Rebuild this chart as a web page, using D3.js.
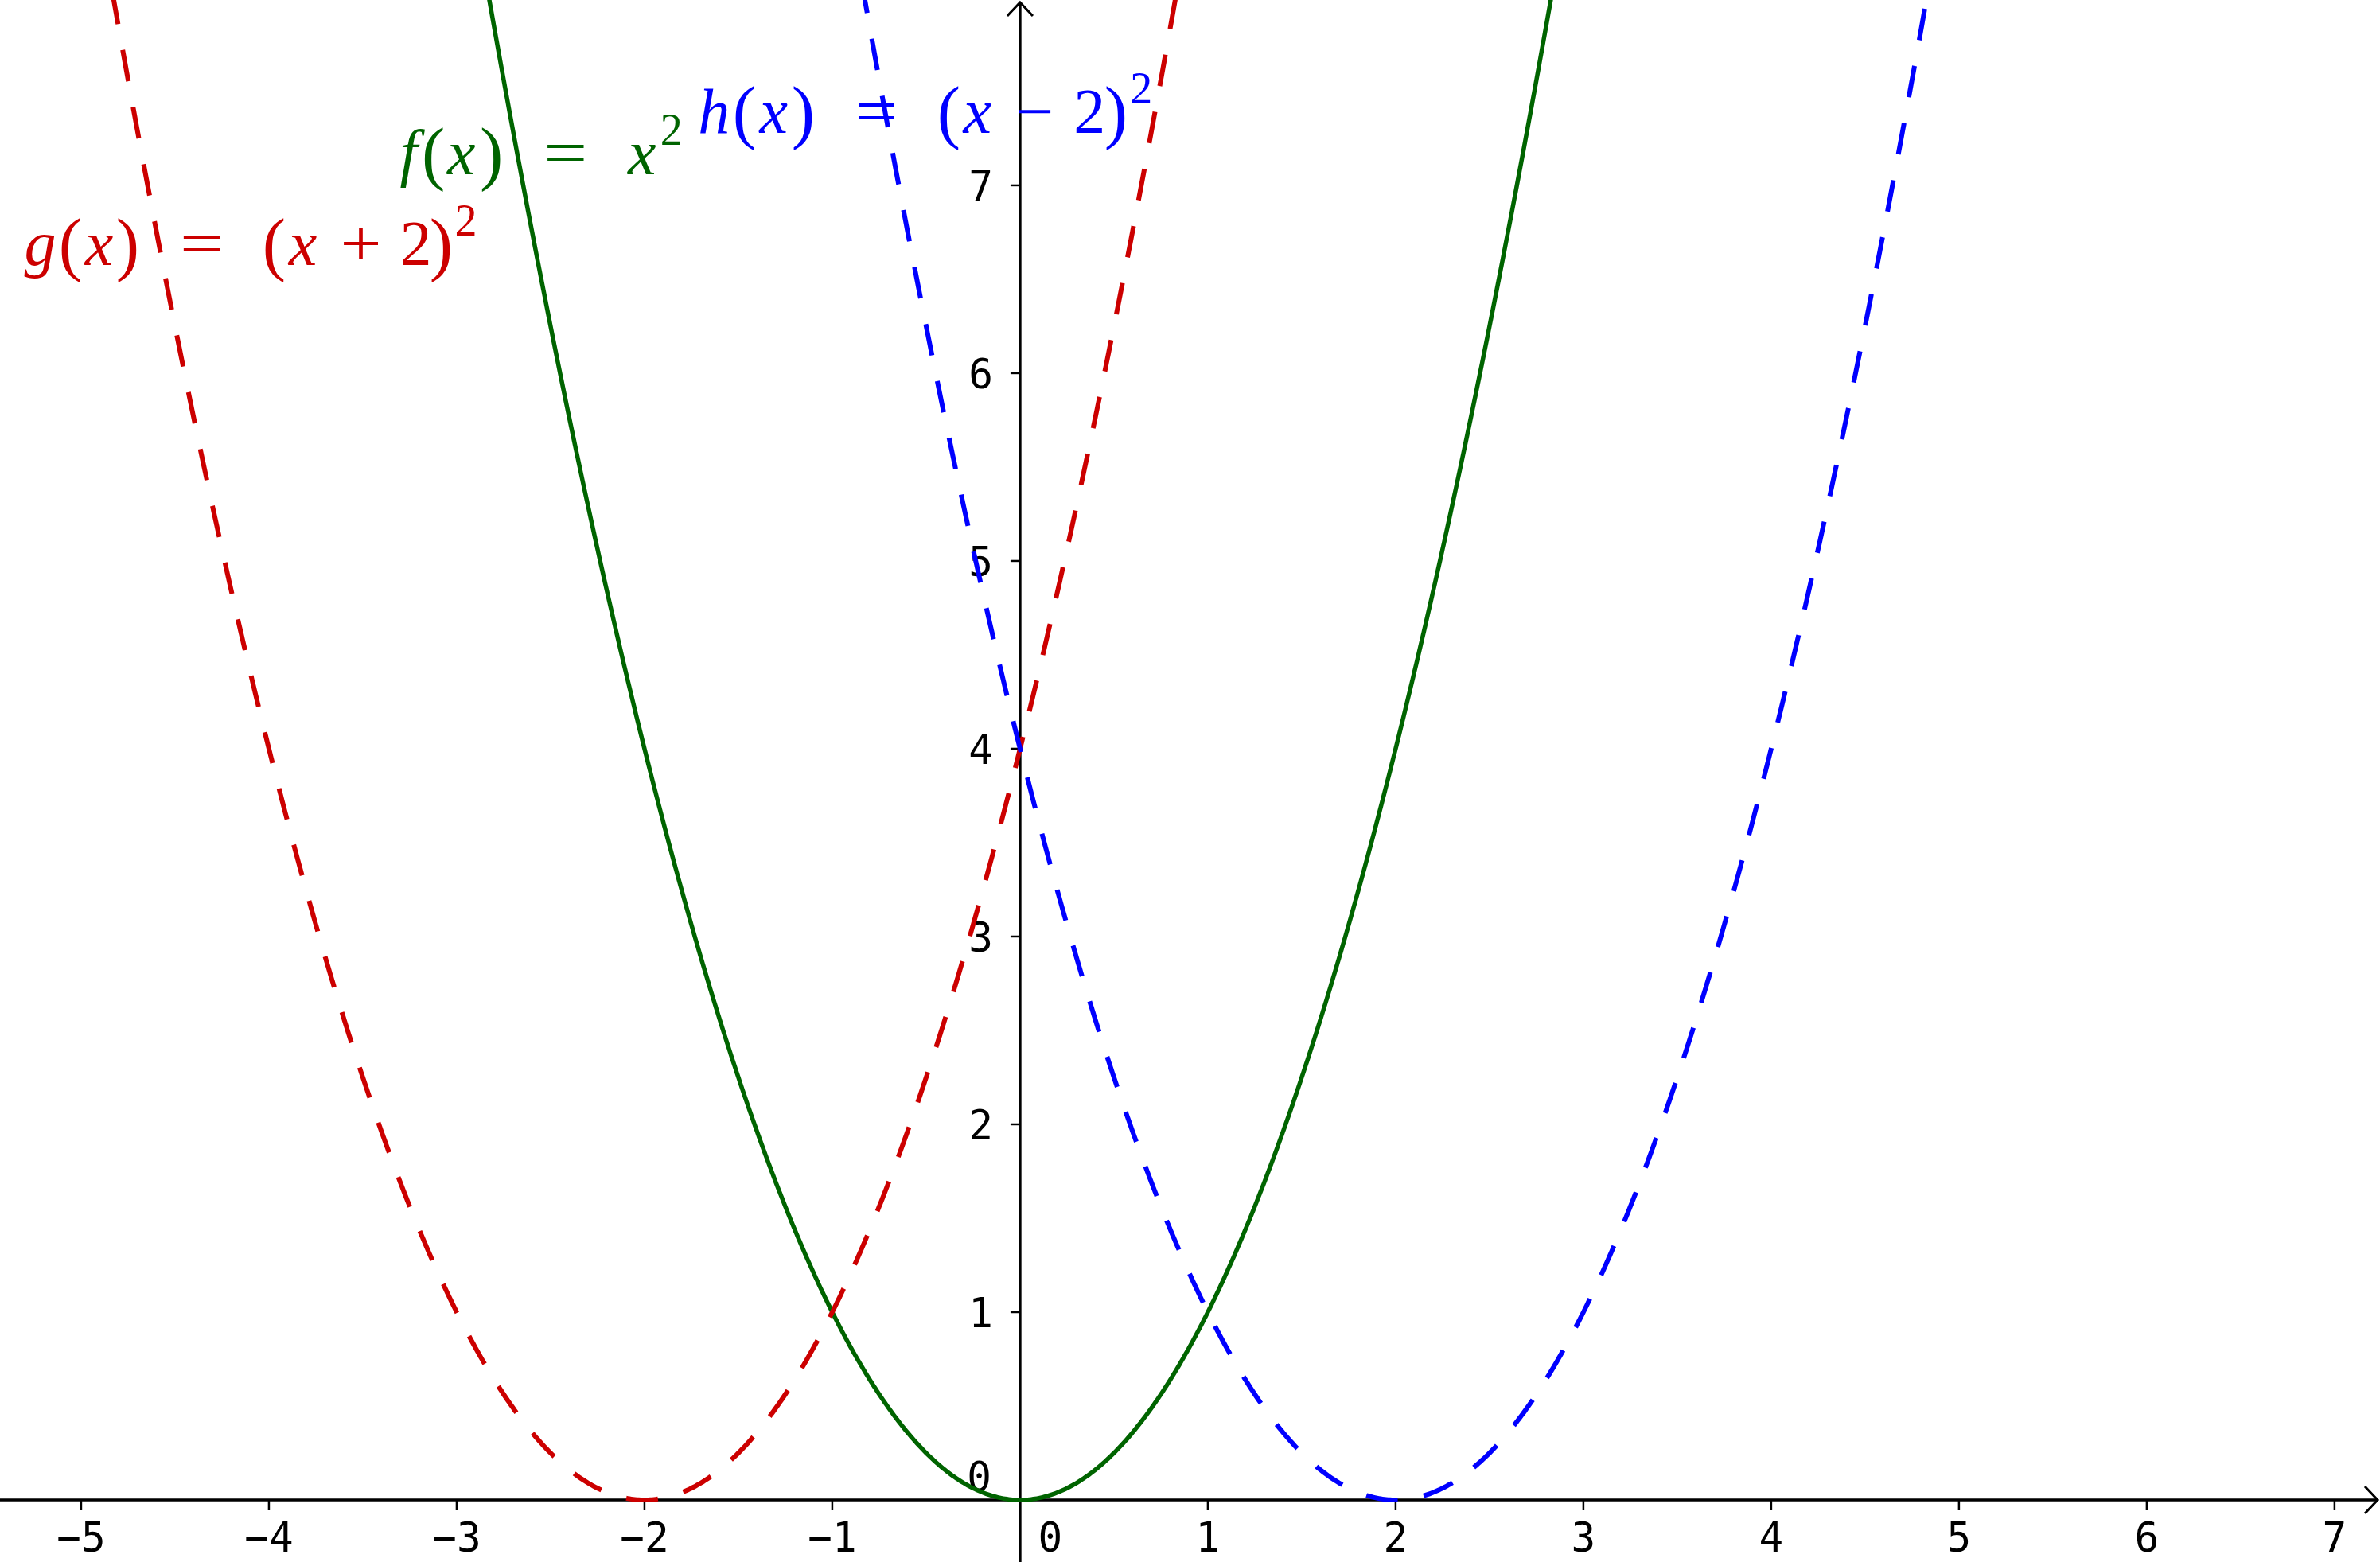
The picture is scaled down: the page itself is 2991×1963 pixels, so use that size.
<!DOCTYPE html>
<html>
<head>
<meta charset="utf-8">
<script src="https://cdn.jsdelivr.net/npm/d3@7"></script>
<style>
  html, body { margin: 0; padding: 0; background: #fff; }
  svg { display: block; }
</style>
</head>
<body>
<div id="chart"></div>
<script>
// Data
const xTicks = [-5, -4, -3, -2, -1, 1, 2, 3, 4, 5, 6, 7];
const yTicks = [1, 2, 3, 4, 5, 6, 7];
const sampleStart = -5.6;
const sampleEnd = 7.4;
const sampleStep = 0.01;

// the three parabolas: f(x) = x^2, g(x) = (x+2)^2, h(x) = (x-2)^2
const curveNames = ["f", "g", "h"];
const curveShifts = [0, 2, -2];
const curveColors = ["#006400", "#cc0000", "#0000ff"];
const curveDashed = [false, true, true];

// Dimensions
const width = 2991;
const height = 1963;

const x = d3.scaleLinear().domain([-5.432, 7.242]).range([0, width]);
const y = d3.scaleLinear().domain([-0.3305, 7.987]).range([height, 0]);

const svg = d3.select("#chart")
    .append("svg")
    .attr("width", width)
    .attr("height", height);

svg.append("defs").append("clipPath")
    .attr("id", "plot")
    .append("rect")
    .attr("width", width)
    .attr("height", height);

const x0 = x(0);
const y0 = y(0);

// Axes
const axes = svg.append("g")
    .attr("stroke", "#000")
    .attr("fill", "none");

axes.append("line")
    .attr("x1", 0).attr("x2", width - 3)
    .attr("y1", y0).attr("y2", y0)
    .attr("stroke-width", 3.5);

axes.append("path")
    .attr("d", `M${width - 19},${y0 - 17}L${width - 3},${y0}L${width - 19},${y0 + 17}`)
    .attr("stroke-width", 3);

axes.append("line")
    .attr("x1", x0).attr("x2", x0)
    .attr("y1", height).attr("y2", 3)
    .attr("stroke-width", 3.5);

axes.append("path")
    .attr("d", `M${x0 - 16},${20}L${x0},${3}L${x0 + 16},${20}`)
    .attr("stroke-width", 3);

// tick marks
axes.selectAll(".xt")
    .data(xTicks)
    .enter().append("line")
    .attr("x1", d => x(d)).attr("x2", d => x(d))
    .attr("y1", y0).attr("y2", y0 + 13)
    .attr("stroke-width", 2.5);

axes.selectAll(".yt")
    .data(yTicks)
    .enter().append("line")
    .attr("x1", x0 - 12).attr("x2", x0)
    .attr("y1", d => y(d)).attr("y2", d => y(d))
    .attr("stroke-width", 2.5);

// tick labels
const fmt = d => d < 0 ? "\u2212" + Math.abs(d) : String(d);

const labels = svg.append("g")
    .attr("font-family", "'DejaVu Sans Mono', monospace")
    .attr("font-size", 51)
    .attr("fill", "#000");

labels.selectAll(".xl")
    .data(xTicks)
    .enter().append("text")
    .attr("x", d => x(d))
    .attr("y", y0 + 65)
    .attr("text-anchor", "middle")
    .text(fmt);

labels.selectAll(".yl")
    .data(yTicks)
    .enter().append("text")
    .attr("x", x0 - 34)
    .attr("y", d => y(d) + 19)
    .attr("text-anchor", "end")
    .text(fmt);

// origin labels
labels.append("text")
    .attr("x", x0 + 38).attr("y", y0 + 65)
    .attr("text-anchor", "middle")
    .text("0");
labels.append("text")
    .attr("x", x0 - 36).attr("y", y0 - 11)
    .attr("text-anchor", "end")
    .text("0");

// Curves
const line = d3.line()
    .x(d => x(d[0]))
    .y(d => y(d[1]));

const xs = d3.range(sampleStart, sampleEnd, sampleStep);

const curves = svg.append("g").attr("clip-path", "url(#plot)");

curveNames.forEach((name, i) => {
    const pts = xs.map(v => [v, (v + curveShifts[i]) * (v + curveShifts[i])])
        .filter(p => p[1] < 9);
    curves.append("path")
        .datum(pts)
        .attr("d", line)
        .attr("fill", "none")
        .attr("stroke", curveColors[i])
        .attr("stroke-width", curveDashed[i] ? 6 : 5.5)
        .attr("stroke-dasharray", curveDashed[i] ? "40,33" : null)
        .attr("stroke-linecap", "butt")
        .attr("stroke-linejoin", "round");
});

// Function labels (math style). Each token: text, italic?, superscript?, ink centre offset from label start (px), stretched width
const labelAnchors = [
    { color: curveColors[0], gx: -3.34, gy: 7.06, tokens: [
        ["f", 1, 0, 20], ["(", 0, 0, 51], ["x", 1, 0, 86], [")", 0, 0, 124],
        ["=", 0, 0, 217, 55], ["x", 1, 0, 313], ["2", 0, 1, 350]] },
    { color: curveColors[1], gx: -5.29, gy: 6.575, tokens: [
        ["g", 1, 0, 17], ["(", 0, 0, 55], ["x", 1, 0, 91], [")", 0, 0, 127],
        ["=", 0, 0, 220, 55], ["(", 0, 0, 311], ["x", 1, 0, 347], ["+", 0, 0, 420, 52],
        ["2", 0, 0, 489], [")", 0, 0, 521], ["2", 0, 1, 552]] },
    { color: curveColors[2], gx: -1.71, gy: 7.28, tokens: [
        ["h", 1, 0, 19], ["(", 0, 0, 57], ["x", 1, 0, 94], [")", 0, 0, 131],
        ["=", 0, 0, 223, 53], ["(", 0, 0, 314], ["x", 1, 0, 350], ["\u2212", 0, 0, 422, 48],
        ["2", 0, 0, 491], [")", 0, 0, 524], ["2", 0, 1, 556]] }
];

const math = svg.append("g")
    .attr("font-family", "'Liberation Serif', 'DejaVu Serif', serif");

labelAnchors.forEach(l => {
    const lx = x(l.gx);
    const ly = y(l.gy);
    l.tokens.forEach(t => {
        const isSup = t[2] === 1;
        const isParen = t[0] === "(" || t[0] === ")";
        const size = isSup ? 56 : (isParen ? 88 : 80);
        const txt = math.append("text")
            .attr("x", lx + t[3])
            .attr("y", isSup ? ly - 37 : ly + (isParen ? 3 : 0))
            .attr("text-anchor", "middle")
            .attr("font-size", size)
            .attr("font-style", t[1] ? "italic" : "normal")
            .attr("fill", l.color)
            .text(t[0]);
        if (t[4]) {
            txt.attr("textLength", t[4]).attr("lengthAdjust", "spacingAndGlyphs");
        }
    });
});
</script>
</body>
</html>
